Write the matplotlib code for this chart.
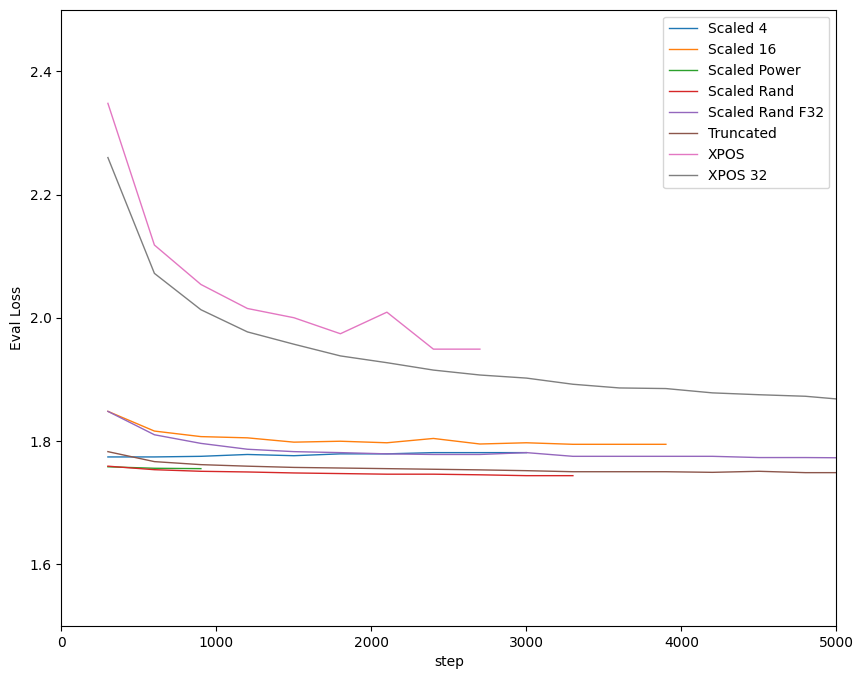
import matplotlib
matplotlib.use("Agg")
import matplotlib.pyplot as plt

# eval loss per run (eval every 300 steps)
scaled_4_steps = [300, 600, 900, 1200, 1500, 1800, 2100, 2400, 2700, 3000]
scaled_4_loss = [1.774, 1.774, 1.775, 1.778, 1.776, 1.779, 1.779, 1.781, 1.781, 1.781]

scaled_16_steps = [300, 600, 900, 1200, 1500, 1800, 2100, 2400, 2700, 3000, 3300, 3600, 3900]
scaled_16_loss = [1.848, 1.816, 1.807, 1.805, 1.798, 1.7995, 1.797, 1.804, 1.795, 1.797,
                  1.7945, 1.7945, 1.7945]

scaled_power_steps = [300, 600, 900]
scaled_power_loss = [1.758, 1.7556, 1.755]

scaled_rand_steps = [300, 600, 900, 1200, 1500, 1800, 2100, 2400, 2700, 3000, 3300]
scaled_rand_loss = [1.759, 1.7533, 1.7507, 1.7496, 1.748, 1.747, 1.746, 1.746, 1.745,
                    1.7436, 1.7436]

scaled_rand_f32_steps = [300, 600, 900, 1200, 1500, 1800, 2100, 2400, 2700, 3000, 3300,
                         3600, 3900, 4200, 4500, 4800, 5100]
scaled_rand_f32_loss = [1.848, 1.810, 1.796, 1.7865, 1.7826, 1.781, 1.779, 1.778, 1.778,
                        1.781, 1.775, 1.775, 1.775, 1.775, 1.773, 1.773, 1.7725]

truncated_steps = [300, 600, 900, 1200, 1500, 1800, 2100, 2400, 2700, 3000, 3300, 3600,
                   3900, 4200, 4500, 4800, 5100]
truncated_loss = [1.7826, 1.7664, 1.7615, 1.759, 1.757, 1.756, 1.755, 1.754, 1.753, 1.7517,
                  1.750, 1.750, 1.750, 1.749, 1.7507, 1.7485, 1.7485]

xpos_steps = [300, 600, 900, 1200, 1500, 1800, 2100, 2400, 2700]
xpos_loss = [2.348, 2.118, 2.054, 2.015, 2.0, 1.974, 2.009, 1.949, 1.949]

xpos_32_steps = [300, 600, 900, 1200, 1500, 1800, 2100, 2400, 2700, 3000, 3300, 3600,
                 3900, 4200, 4500, 4800, 5100]
xpos_32_loss = [2.260, 2.072, 2.013, 1.977, 1.957, 1.938, 1.927, 1.915, 1.907, 1.902,
                1.892, 1.886, 1.885, 1.878, 1.875, 1.8725, 1.866]

runs = [
    ("Scaled 4", scaled_4_steps, scaled_4_loss),
    ("Scaled 16", scaled_16_steps, scaled_16_loss),
    ("Scaled Power", scaled_power_steps, scaled_power_loss),
    ("Scaled Rand", scaled_rand_steps, scaled_rand_loss),
    ("Scaled Rand F32", scaled_rand_f32_steps, scaled_rand_f32_loss),
    ("Truncated", truncated_steps, truncated_loss),
    ("XPOS", xpos_steps, xpos_loss),
    ("XPOS 32", xpos_32_steps, xpos_32_loss),
]

fig, ax = plt.subplots(figsize=(10, 8))

for name, steps, loss in runs:
    ax.plot(steps, loss, label=name, lw=1)

ax.set_xlim(0, 5000)
ax.set_ylim(1.5, 2.5)
ax.set_xlabel("step")
ax.set_ylabel("Eval Loss")
ax.legend(loc="upper right")

fig.savefig("out.png", dpi=100, bbox_inches="tight")
